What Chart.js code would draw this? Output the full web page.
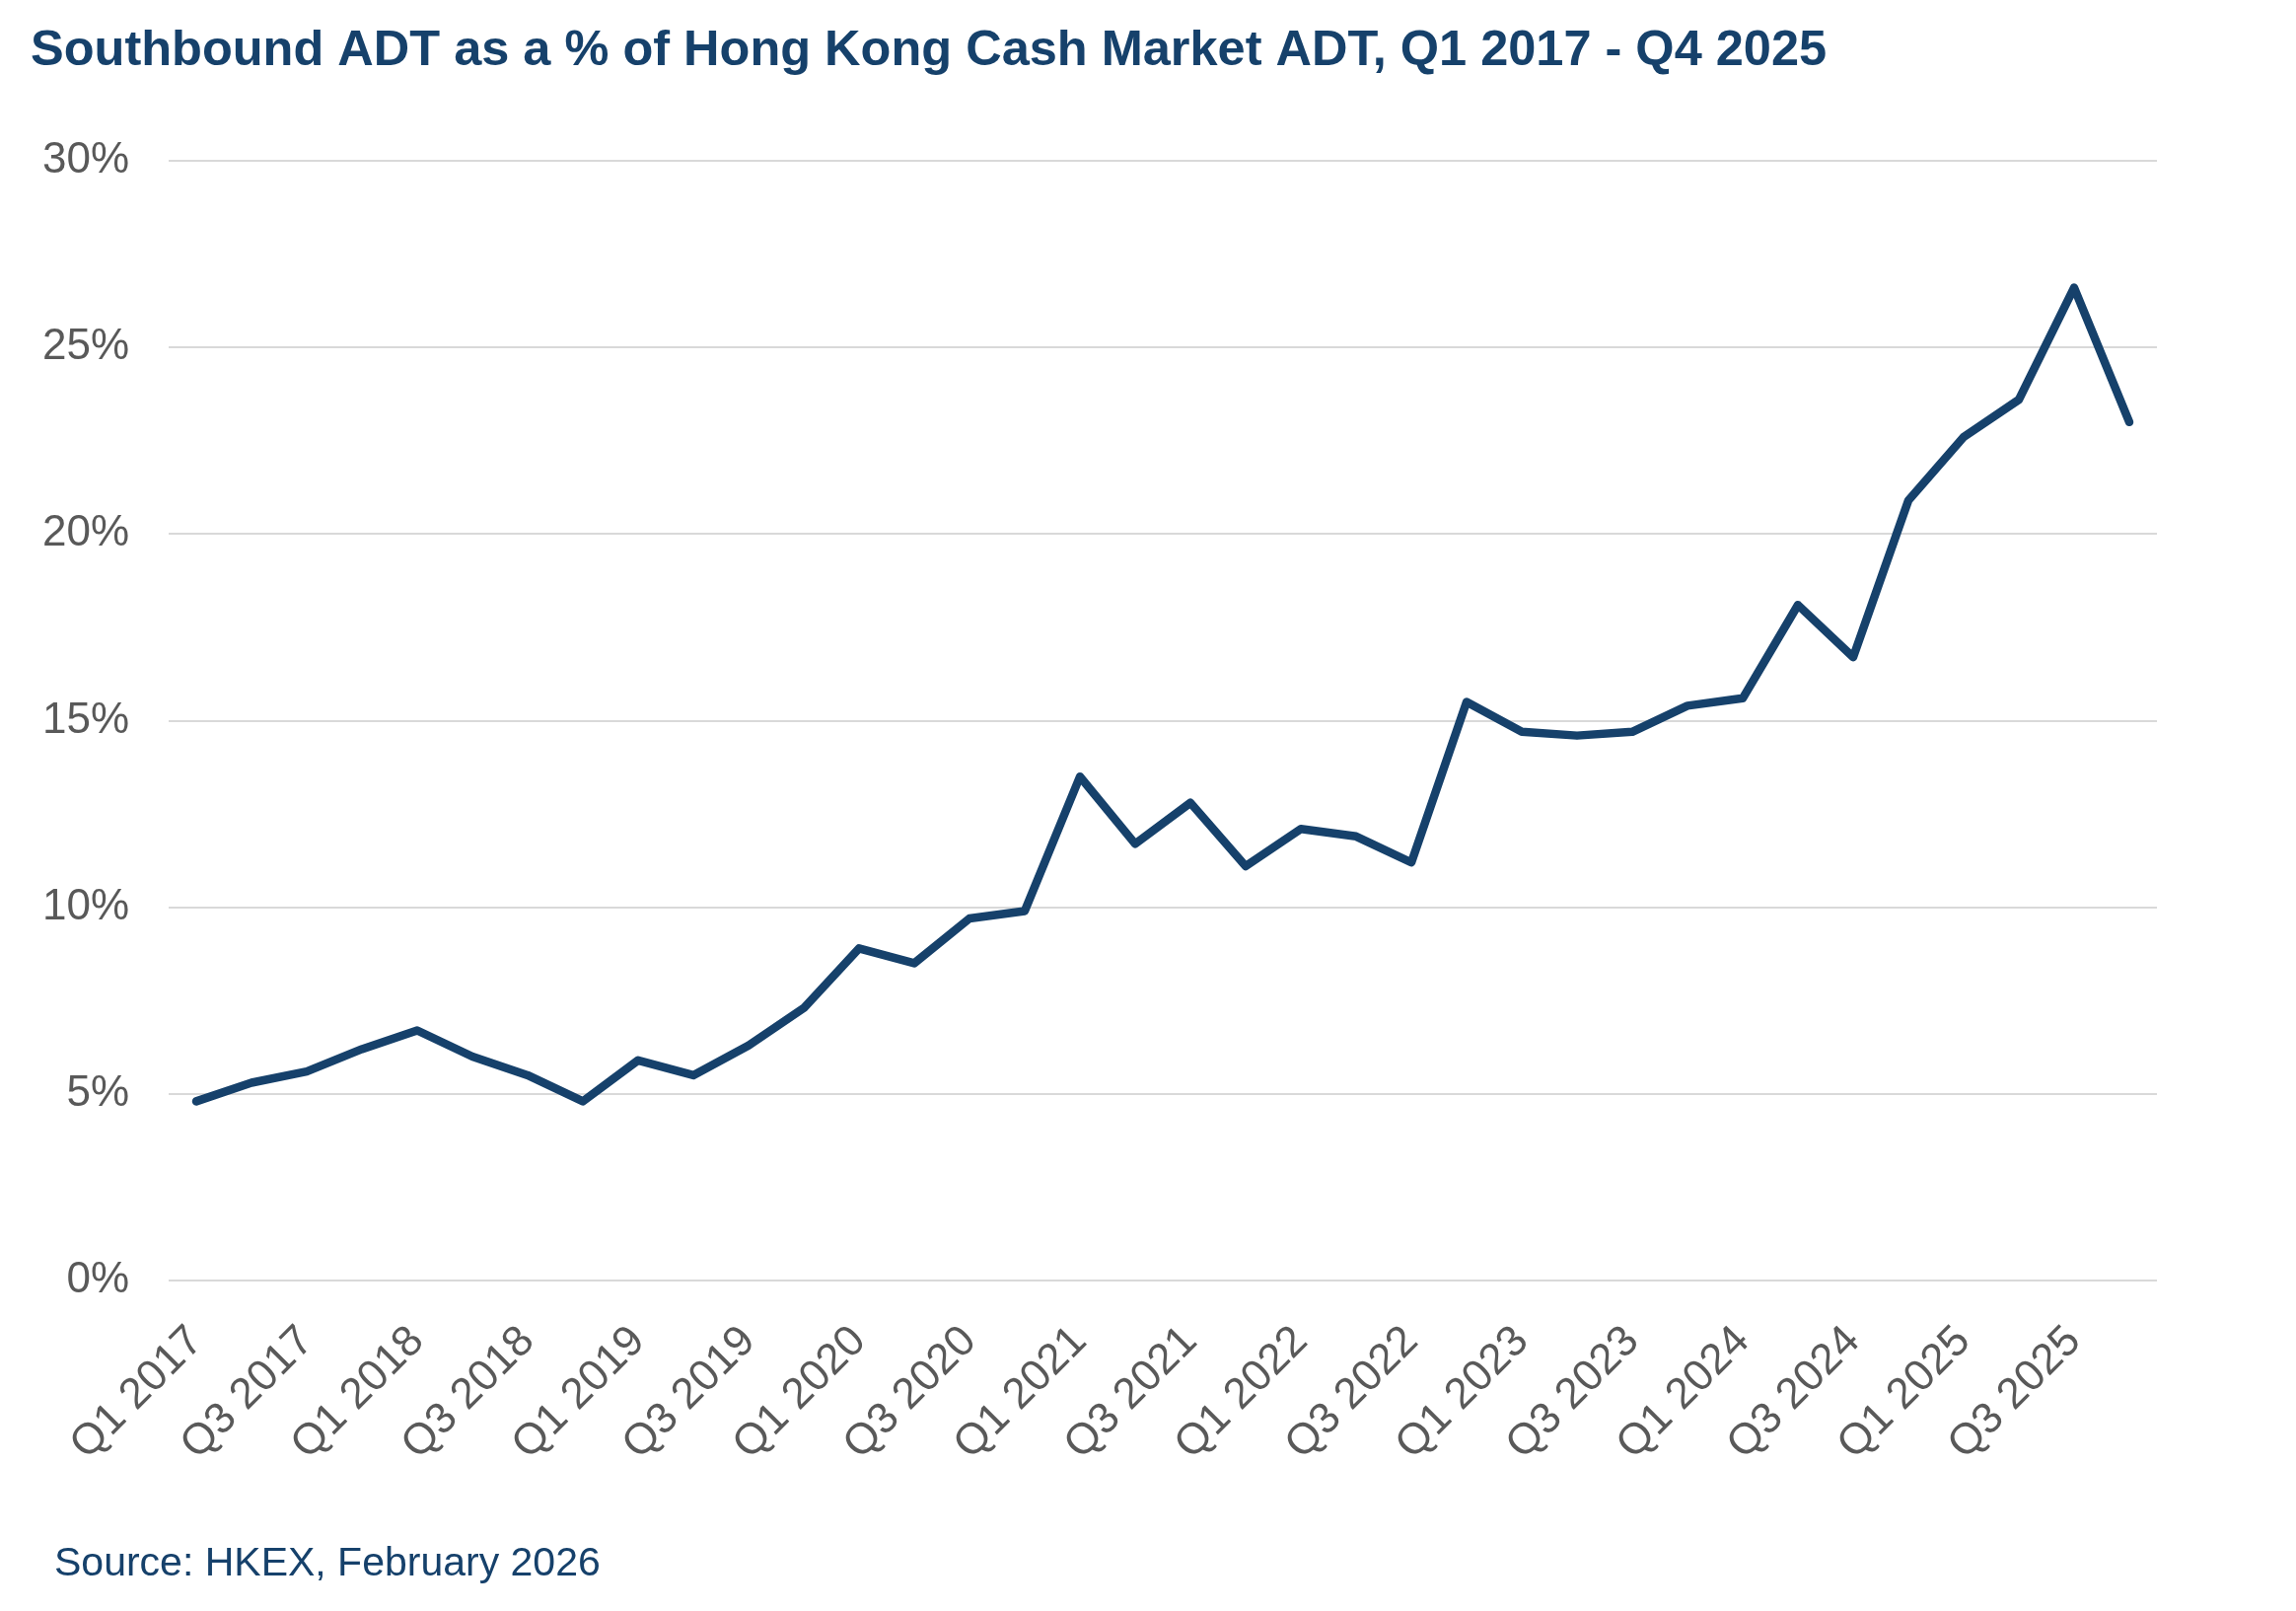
<!DOCTYPE html>
<html>
<head>
<meta charset="utf-8">
<title>Southbound ADT share</title>
<script src="https://cdn.jsdelivr.net/npm/chart.js@4/dist/chart.umd.min.js"></script>
<style>
  html, body { margin: 0; padding: 0; background: #ffffff; }
  #wrap { width: 2328px; height: 1633px; position: relative; }
</style>
</head>
<body>
<div id="wrap">
  <canvas id="chart" width="2328" height="1633"></canvas>
</div>
<script>
// quarters Q1 2017 .. Q4 2025
const years = ['2017', '2018', '2019', '2020', '2021', '2022', '2023', '2024', '2025'];
const quarters = ['Q1', 'Q2', 'Q3', 'Q4'];
const labels = [];
years.forEach(y => quarters.forEach(q => labels.push(q + ' ' + y)));

// Southbound ADT as % of HK cash market ADT
const southboundShare = [
  4.8, 5.3, 5.6, 6.2,
  6.7, 6.0, 5.5, 4.8,
  5.9, 5.5, 6.3, 7.3,
  8.9, 8.5, 9.7, 9.9,
  13.5, 11.7, 12.8, 11.1,
  12.1, 11.9, 11.2, 15.5,
  14.7, 14.6, 14.7, 15.4,
  15.6, 18.1, 16.7, 20.9,
  22.6, 23.6, 26.6, 23.0
];

const yTicks = [0, 5, 10, 15, 20, 25, 30];

const titleText = 'Southbound ADT as a % of Hong Kong Cash Market ADT, Q1 2017 - Q4 2025';
const sourceText = 'Source: HKEX, February 2026';

const navy = '#16416B';
const grey = '#595959';
const fontFamily = '"Liberation Sans", Arial, Helvetica, sans-serif';

// title + source note drawn straight onto the canvas
const textPlugin = {
  id: 'textPlugin',
  afterDraw(chart) {
    const ctx = chart.ctx;
    ctx.save();
    ctx.fillStyle = navy;
    ctx.textAlign = 'left';
    ctx.textBaseline = 'alphabetic';
    ctx.font = 'bold 50.5px ' + fontFamily;
    ctx.fillText(titleText, 31, 66);
    ctx.font = '41px ' + fontFamily;
    ctx.fillText(sourceText, 55, 1597);
    ctx.restore();
  }
};

const ctx = document.getElementById('chart').getContext('2d');
new Chart(ctx, {
  type: 'line',
  data: {
    labels: labels,
    datasets: [{
      label: 'Southbound ADT %',
      data: southboundShare,
      borderColor: navy,
      borderWidth: 8.5,
      borderCapStyle: 'round',
      borderJoinStyle: 'round',
      pointRadius: 0,
      pointHoverRadius: 0,
      tension: 0,
      fill: false
    }]
  },
  options: {
    responsive: false,
    animation: false,
    devicePixelRatio: 1,
    layout: { padding: { top: 163, right: 141, bottom: 0, left: 0 } },
    plugins: {
      legend: { display: false },
      tooltip: { enabled: false },
      title: { display: false }
    },
    scales: {
      x: {
        offset: true,
        grid: { display: false, drawTicks: false },
        border: { display: false },
        afterFit(scale) { scale.height = 335; },
        ticks: {
          autoSkip: false,
          minRotation: 45,
          maxRotation: 45,
          padding: 36,
          color: grey,
          font: { family: fontFamily, size: 44 },
          callback(value, index) {
            return index % 2 === 0 ? labels[index] : '';
          }
        }
      },
      y: {
        min: 0,
        max: 30,
        afterFit(scale) { scale.width = 171; },
        afterBuildTicks(scale) {
          scale.ticks = yTicks.map(v => ({ value: v }));
        },
        grid: { color: '#D9D9D9', lineWidth: 2, drawTicks: false },
        border: { display: false },
        ticks: {
          padding: 40,
          color: grey,
          font: { family: fontFamily, size: 44 },
          callback(value) { return value + '%'; }
        }
      }
    }
  },
  plugins: [textPlugin]
});
</script>
</body>
</html>
